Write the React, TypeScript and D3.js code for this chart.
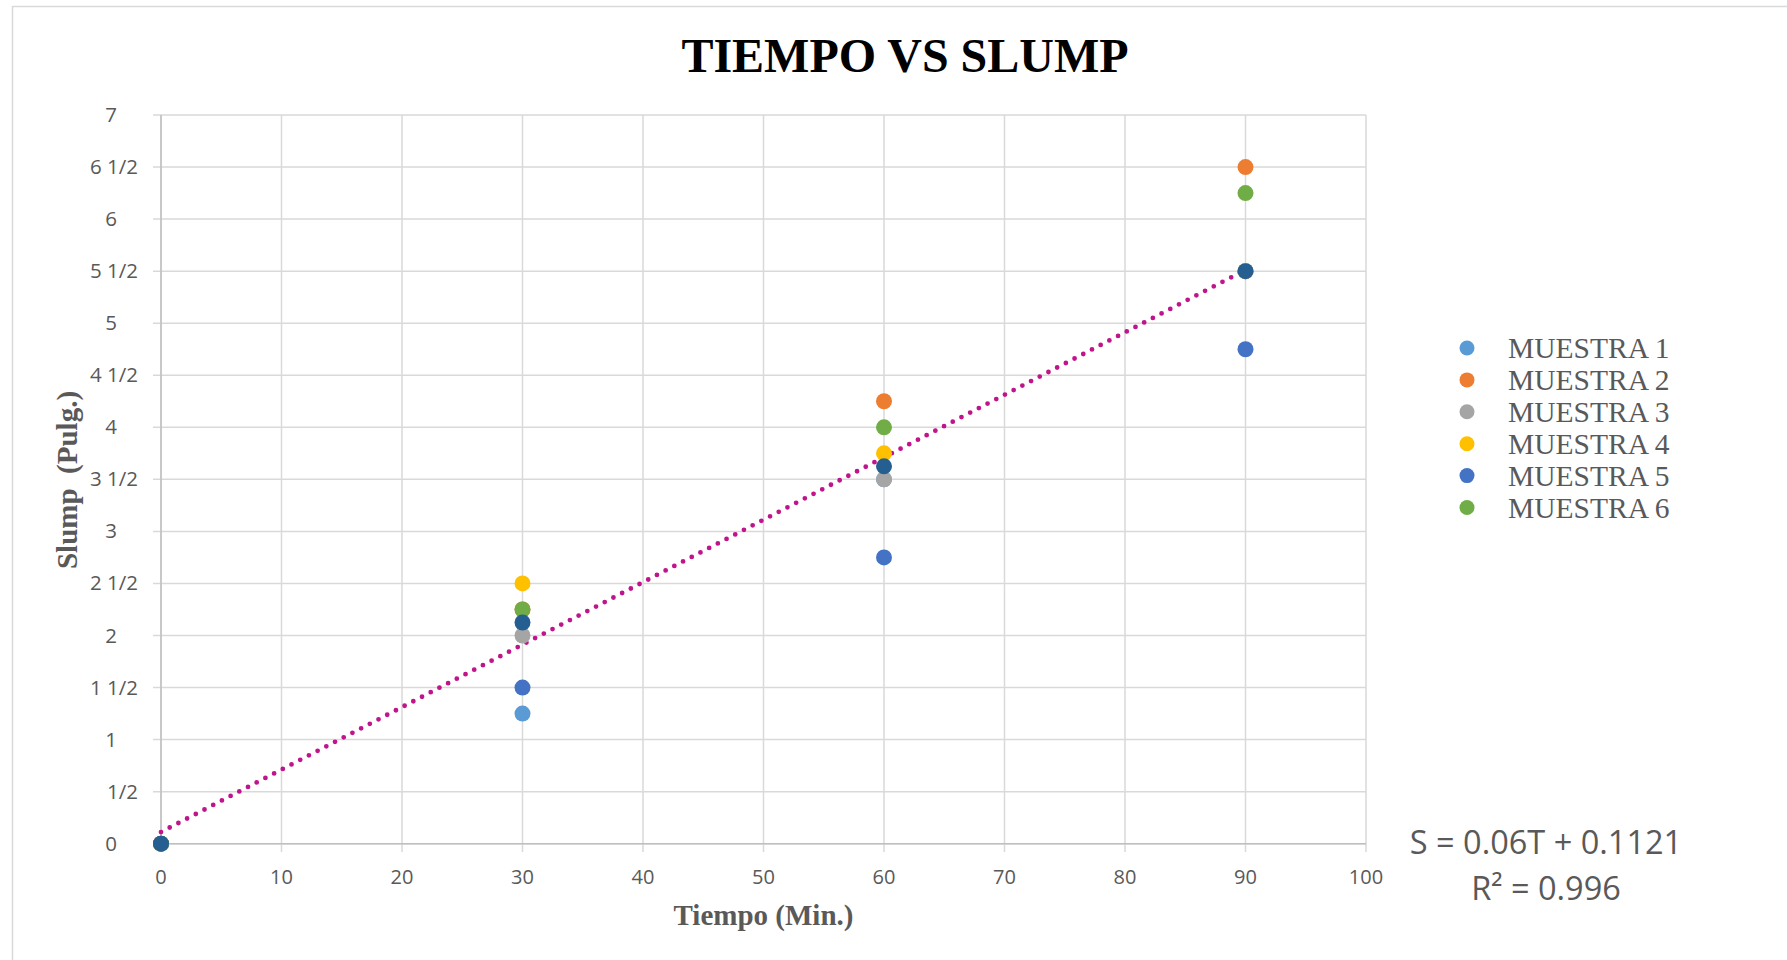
import { useEffect, useRef } from "react";
import * as d3 from "d3";

type T_Series = {
  name: string;
  color: string;
  values: number[];
  inLegend: boolean;
};

const tiempos = [0, 30, 60, 90];

const muestra1 = [0, 1.25, 3.5, 5.5];
const muestra2 = [0, 2.25, 4.25, 6.5];
const muestra3 = [0, 2.0, 3.5, 5.5];
const muestra4 = [0, 2.5, 3.75, 5.5];
const muestra5 = [0, 1.5, 2.75, 4.75];
const muestra6 = [0, 2.25, 4.0, 6.25];
const promedio = [0, 2.125, 3.625, 5.5];

const xTicks = [0, 10, 20, 30, 40, 50, 60, 70, 80, 90, 100];
const yTicks = [0, 0.5, 1, 1.5, 2, 2.5, 3, 3.5, 4, 4.5, 5, 5.5, 6, 6.5, 7];

// tendencia lineal: S = 0.06T + 0.1121
const pendiente = 0.06;
const intercepto = 0.1121;
const ecuacion = ["S = 0.06T + 0.1121", "R² = 0.996"];

const series: T_Series[] = [
  { name: "MUESTRA 1", color: "#5B9BD5", values: muestra1, inLegend: true },
  { name: "MUESTRA 2", color: "#ED7D31", values: muestra2, inLegend: true },
  { name: "MUESTRA 3", color: "#A5A5A5", values: muestra3, inLegend: true },
  { name: "MUESTRA 4", color: "#FFC000", values: muestra4, inLegend: true },
  { name: "MUESTRA 5", color: "#4472C4", values: muestra5, inLegend: true },
  { name: "MUESTRA 6", color: "#70AD47", values: muestra6, inLegend: true },
  { name: "PROMEDIO", color: "#255E91", values: promedio, inLegend: false },
];

const W = 1787;
const H = 960;
const margin = { top: 115, right: 421, bottom: 116, left: 161 };
const serif = "'Liberation Serif', 'Times New Roman', serif";
const sans = "'Open Sans', 'Noto Sans', sans-serif";
const gris = "#595959";

// formato tipo "# ?/?" de Excel
function fraccion(v: number) {
  const ent = Math.floor(v);
  const frac = v - ent;
  if (frac === 0) return { text: `${ent}`, pad: true };
  return { text: ent === 0 ? "1/2" : `${ent} 1/2`, pad: false };
}

export default function App() {
  const svgRef = useRef<SVGSVGElement | null>(null);

  useEffect(() => {
    if (!svgRef.current) return;
    const svg = d3.select(svgRef.current);
    svg.selectAll("*").remove();

    const x0 = margin.left;
    const x1 = W - margin.right;
    const y0 = H - margin.bottom;
    const y1 = margin.top;

    const xScale = d3.scaleLinear().domain([0, 100]).range([x0, x1]);
    const yScale = d3.scaleLinear().domain([0, 7]).range([y0 - 0.3, y1]);

    // borde del área del gráfico
    svg
      .append("rect")
      .attr("x", 12.5)
      .attr("y", 6.5)
      .attr("width", W + 20)
      .attr("height", H + 20)
      .attr("fill", "#fff")
      .attr("stroke", "#D9D9D9")
      .attr("stroke-width", 1.5);

    // título
    svg
      .append("text")
      .attr("x", 905)
      .attr("y", 72)
      .attr("text-anchor", "middle")
      .attr("font-family", serif)
      .attr("font-weight", "bold")
      .attr("font-size", 48)
      .attr("fill", "#000")
      .text("TIEMPO VS SLUMP");

    // grilla
    const grid = svg.append("g");
    grid
      .selectAll("line.h")
      .data(yTicks)
      .enter()
      .append("line")
      .attr("x1", x0 - 8)
      .attr("x2", x1)
      .attr("y1", (d) => yScale(d))
      .attr("y2", (d) => yScale(d))
      .attr("stroke", "#D9D9D9")
      .attr("stroke-width", 1.5);
    grid
      .selectAll("line.v")
      .data(xTicks)
      .enter()
      .append("line")
      .attr("x1", (d) => xScale(d))
      .attr("x2", (d) => xScale(d))
      .attr("y1", y1)
      .attr("y2", y0 + 8)
      .attr("stroke", "#D9D9D9")
      .attr("stroke-width", 1.5);

    // ejes
    svg
      .append("line")
      .attr("x1", x0)
      .attr("x2", x0)
      .attr("y1", y1)
      .attr("y2", y0 + 8)
      .attr("stroke", "#BFBFBF")
      .attr("stroke-width", 1.5);
    svg
      .append("line")
      .attr("x1", x0 - 8)
      .attr("x2", x1)
      .attr("y1", yScale(0))
      .attr("y2", yScale(0))
      .attr("stroke", "#BFBFBF")
      .attr("stroke-width", 1.5);

    // etiquetas de los ejes
    svg
      .append("g")
      .selectAll("text")
      .data(xTicks)
      .enter()
      .append("text")
      .attr("x", (d) => xScale(d))
      .attr("y", y0 + 40)
      .attr("text-anchor", "middle")
      .attr("font-family", sans)
      .attr("font-size", 20)
      .attr("fill", gris)
      .text((d) => d);

    svg
      .append("g")
      .selectAll("text")
      .data(yTicks)
      .enter()
      .append("text")
      .attr("x", (d) => (fraccion(d).pad ? 117 : 138))
      .attr("y", (d) => yScale(d) + 7)
      .attr("text-anchor", "end")
      .attr("font-family", sans)
      .attr("font-size", 20.5)
      .attr("fill", gris)
      .text((d) => fraccion(d).text);

    // títulos de ejes
    svg
      .append("text")
      .attr("x", (x0 + x1) / 2)
      .attr("y", 925)
      .attr("text-anchor", "middle")
      .attr("font-family", serif)
      .attr("font-weight", "bold")
      .attr("font-size", 29)
      .attr("fill", gris)
      .text("Tiempo (Min.)");

    svg
      .append("text")
      .attr("transform", "translate(77,480) rotate(-90)")
      .attr("text-anchor", "middle")
      .attr("font-family", serif)
      .attr("font-weight", "bold")
      .attr("font-size", 29)
      .attr("fill", gris)
      .attr("xml:space", "preserve")
      .style("white-space", "pre")
      .text("Slump  (Pulg.)");

    // línea de tendencia
    const tx = d3.extent(tiempos) as [number, number];
    const trend = d3
      .line<number>()
      .x((t) => xScale(t))
      .y((t) => yScale(pendiente * t + intercepto));
    svg
      .append("path")
      .attr("d", trend(tx))
      .attr("fill", "none")
      .attr("stroke", "#C0148C")
      .attr("stroke-width", 4.8)
      .attr("stroke-linecap", "round")
      .attr("stroke-dasharray", "0 9.8");

    // puntos
    series.forEach((s) => {
      svg
        .append("g")
        .selectAll("circle")
        .data(s.values)
        .enter()
        .append("circle")
        .attr("cx", (_, i) => xScale(tiempos[i]))
        .attr("cy", (d) => yScale(d))
        .attr("r", 8)
        .attr("fill", s.color);
    });

    // ecuación
    svg
      .append("g")
      .selectAll("text")
      .data(ecuacion)
      .enter()
      .append("text")
      .attr("x", 1546)
      .attr("y", (_, i) => 854 + i * 46)
      .attr("text-anchor", "middle")
      .attr("font-family", sans)
      .attr("font-size", 32.5)
      .attr("fill", gris)
      .text((d) => d);

    // leyenda
    const leg = svg
      .append("g")
      .selectAll("g")
      .data(series.filter((s) => s.inLegend))
      .enter()
      .append("g")
      .attr("transform", (_, i) => `translate(1467,${348 + i * 31.9})`);
    leg.append("circle").attr("r", 7.5).attr("fill", (d) => d.color);
    leg
      .append("text")
      .attr("x", 41)
      .attr("y", 10)
      .attr("font-family", serif)
      .attr("font-size", 29.5)
      .attr("fill", gris)
      .text((d) => d.name);
  }, []);

  return (
    <svg
      ref={svgRef}
      width={W}
      height={H}
      style={{ position: "absolute", left: 0, top: 0, display: "block" }}
    />
  );
}
